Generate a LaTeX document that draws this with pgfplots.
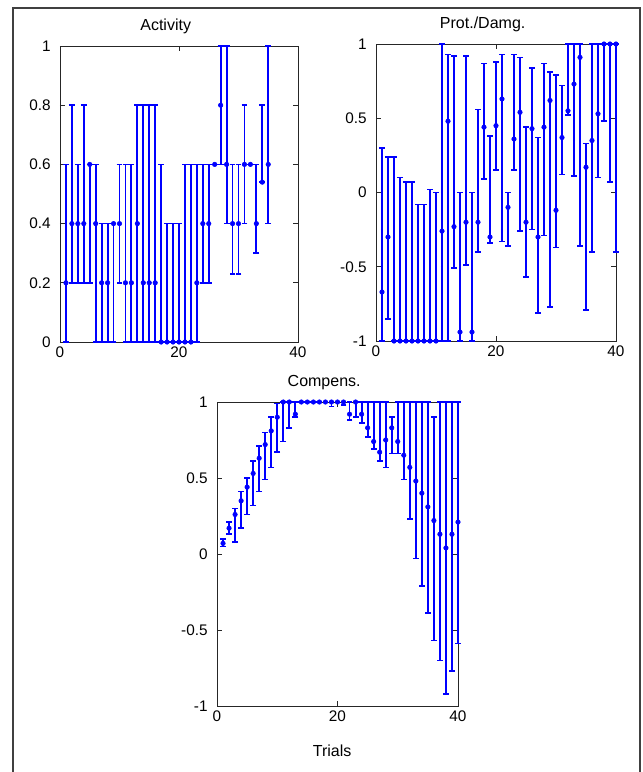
\documentclass[border=0pt]{standalone}
\usepackage{pgfplots}
\usepackage{pgfplotstable}
\pgfplotsset{compat=1.18}
\usepackage{fontspec}
\setmainfont{Liberation Sans}

% t = trial, v = value, lo/hi = ends of the error bar
\pgfplotstableread{
t v lo hi
1 0.2 0 0.6
2 0.4 0.2 0.8
3 0.4 0.2 0.6
4 0.4 0.2 0.8
5 0.6 0.2 0.6
6 0.4 0 0.6
7 0.2 0 0.4
8 0.2 0 0.4
9 0.4 0 0.4
10 0.4 0.2 0.6
11 0.2 0 0.6
12 0.2 0 0.6
13 0.4 0 0.8
14 0.2 0 0.8
15 0.2 0 0.8
16 0.2 0 0.8
17 0 0 0.6
18 0 0 0.4
19 0 0 0.4
20 0 0 0.4
21 0 0 0.6
22 0 0 0.6
23 0.2 0 0.6
24 0.4 0.2 0.6
25 0.4 0.2 0.6
26 0.6 0.6 0.6
27 0.8 0.6 1.0
28 0.6 0.4 1.0
29 0.4 0.23 0.6
30 0.4 0.23 0.6
31 0.6 0.4 0.8
32 0.6 0.6 0.6
33 0.4 0.3 0.6
34 0.54 0.54 0.8
35 0.6 0.4 1.0
}\activity

\pgfplotstableread{
t v lo hi
1 -0.67 -1 0.3
2 -0.3 -0.85 0.24
3 -1 -1 0.24
4 -1 -1 0.1
5 -1 -1 0.07
6 -1 -1 0.07
7 -1 -1 -0.08
8 -1 -1 -0.08
9 -1 -1 0.02
10 -1 -1 0
11 -0.26 -1 1
12 0.48 -1 0.93
13 -0.23 -0.51 0.92
14 -0.94 -1 0
15 -0.2 -0.49 0.92
16 -0.94 -1 0
17 -0.2 -0.4 0.56
18 0.44 0.09 0.87
19 -0.3 -0.34 0.38
20 0.45 0.15 0.88
21 0.63 -0.33 0.93
22 -0.1 -0.36 0
23 0.36 0.15 0.93
24 0.54 -0.26 0.91
25 -0.2 -0.57 0.44
26 0.43 -0.25 0.84
27 -0.3 -0.81 0.37
28 0.44 -0.29 0.87
29 0.62 -0.77 0.81
30 -0.12 -0.37 0.79
31 0.37 0.12 0.72
32 0.55 0.52 1
33 0.73 0.11 1
34 0.91 -0.36 1
35 0.17 -0.79 0.33
36 0.35 -0.4 1
37 0.53 0.1 1
38 1 0.48 1
39 1 0.07 1
40 1 -0.4 1
}\protdamg

\pgfplotstableread{
t v lo hi
1 0.07 0.05 0.1
2 0.17 0.13 0.21
3 0.26 0.08 0.3
4 0.35 0.17 0.41
5 0.44 0.26 0.5
6 0.53 0.32 0.61
7 0.63 0.41 0.71
8 0.72 0.49 0.8
9 0.81 0.57 0.9
10 0.9 0.67 0.99
11 1 0.74 1
12 1 0.83 1
13 0.92 0.9 1
14 1 1 1
15 1 1 1
16 1 1 1
17 1 1 1
18 1 1 1
19 1 0.97 1
20 1 1 1
21 1 0.98 1
22 0.92 0.88 1
23 1 0.9 1
24 0.92 0.86 1
25 0.83 0.77 1
26 0.74 0.69 1
27 0.67 0.61 1
28 0.75 0.57 1
29 0.83 0.66 0.9
30 0.74 0.66 1
31 0.65 0.49 1
32 0.57 0.23 1
33 0.48 -0.03 1
34 0.4 -0.21 1
35 0.31 -0.39 1
36 0.22 -0.57 0.9
37 0.13 -0.7 1
38 0.04 -0.92 1
39 0.13 -0.77 1
40 0.21 -0.59 1
}\compens

\definecolor{mblue}{RGB}{0,0,255}

\pgfplotsset{
  panel/.style={
    scale only axis,
    anchor=south west,
    xmin=0, xmax=40, xtick={0,20,40},
    font=\fontsize{12}{14}\selectfont,
    tick label style={font=\fontsize{11.5}{13}\selectfont},
    yticklabel style={xshift=-3.5pt},
    /pgf/number format/assume math mode=true,
    axis line style={black!85, line width=0.7pt},
    tick style={black!85, line width=0.6pt},
    major tick length=3.5pt,
    title style={at={(0.5,1)}, anchor=base, yshift=5.5pt, xshift=-10pt},
    clip=false,
  },
  ebar/.style={
    only marks, color=mblue, mark=*, mark size=1.7pt,
    error bars/.cd, y dir=both, y explicit,
    error bar style={draw=mblue, line width=1.4pt},
    error mark options={draw=mblue, mark size=2.2pt, line width=1.2pt, rotate=90},
  },
}

\newcommand{\errplot}[1]{%
  \addplot[ebar] table[x=t, y=v,
    y error plus expr=\thisrow{hi}-\thisrow{v},
    y error minus expr=\thisrow{v}-\thisrow{lo}] {#1};}

\begin{document}
\begin{tikzpicture}
\useasboundingbox (0pt,0pt) rectangle (482.25pt,-579pt);
\draw[black!75, line width=1.5pt] (9.75pt,-579pt) -- (9.75pt,-6pt) -- (480pt,-6pt) -- (480pt,-579pt);

\begin{axis}[panel, at={(45pt,-256.5pt)}, width=178.5pt, height=222pt,
  ymin=0, ymax=1, ytick={0,0.2,0.4,0.6,0.8,1},
  title={Activity}]
\errplot{\activity}
\end{axis}

\begin{axis}[panel, at={(282pt,-255.75pt)}, width=180pt, height=222.75pt,
  ymin=-1, ymax=1, ytick={-1,-0.5,0,0.5,1},
  title={Prot./Damg.}]
\errplot{\protdamg}
\end{axis}

\begin{axis}[panel, at={(162.75pt,-529.5pt)}, width=180.75pt, height=228pt,
  ymin=-1, ymax=1, ytick={-1,-0.5,0,0.5,1},
  title={Compens.}, xlabel={Trials},
  xlabel style={at={(0.5,0)}, anchor=base, yshift=-38pt, xshift=-4pt}]
\errplot{\compens}
\end{axis}
\end{tikzpicture}
\end{document}
